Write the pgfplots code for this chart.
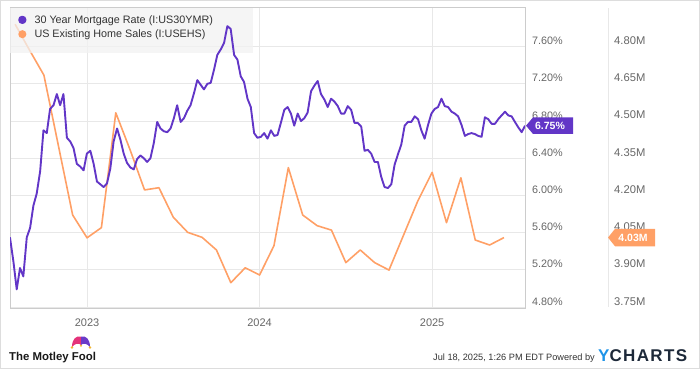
\documentclass[border=0pt]{standalone}
\usepackage{pgfplots}
\pgfplotsset{compat=1.18}
\usepackage{fontspec}
\setmainfont{Liberation Sans}
\newfontfamily\ycfont[LetterSpace=8]{Liberation Sans}
\definecolor{ppl}{HTML}{6236C7}
\definecolor{org}{HTML}{FFA066}
\definecolor{gridc}{HTML}{E8E8E8}
\definecolor{framec}{HTML}{CCCCCC}
\definecolor{outerc}{HTML}{DDDDDD}
\definecolor{tickc}{HTML}{666666}
\definecolor{txtc}{HTML}{333333}
\definecolor{foolpink}{HTML}{E4337A}
\definecolor{foolpurple}{HTML}{6A3BC8}
\definecolor{foolgold}{HTML}{F2B630}
\definecolor{ycblue}{HTML}{1E94E8}
\definecolor{ycdark}{HTML}{1D2939}

\begin{document}
\begin{tikzpicture}

% ---------- Axis A: existing home sales (millions) ----------
\begin{axis}[
  name=A, scale only axis,
  width=515pt, height=300pt,
  xmin=-5.357, xmax=30.46, ymin=3.746, ymax=4.9556,
  axis line style={draw=framec, line width=1pt},
  xtick={0,12,24}, xticklabels={2023,2024,2025},
  ytick={3.75,3.90,4.05,4.20,4.35,4.50,4.65,4.80},
  grid=major, major grid style={draw=gridc, line width=0.9pt},
  major tick length=0pt, tick style={draw=none},
  yticklabel pos=right,
  /pgf/number format/assume math mode=true,
  yticklabel={\pgfmathprintnumber[fixed,fixed zerofill,precision=2]{\tick}M},
  yticklabel style={anchor=base west, inner sep=0pt, xshift=89pt, yshift=2pt,
    font=\fontsize{11.2}{13}\selectfont, text=tickc},
  xticklabel style={anchor=base, inner sep=0pt, yshift=-18pt,
    font=\fontsize{11}{13}\selectfont, text=tickc},
]
\addplot[org, line width=1.6pt, line join=round] coordinates {
(-5,4.890) (-4,4.786) (-3,4.685) (-2,4.403) (-1,4.121) (0,4.029) (1,4.070)
(2,4.533) (3,4.383) (4,4.222) (5,4.231) (6,4.112) (7,4.051) (8,4.031)
(9,3.980) (10,3.848) (11,3.908) (12,3.879) (13,3.997) (14,4.312) (15,4.121)
(16,4.078) (17,4.060) (18,3.929) (19,3.980) (20,3.929) (21,3.899) (22,4.038)
(23,4.177) (24,4.293) (25,4.090) (26,4.271) (27,4.020) (28,4.000) (29,4.030)
};
\coordinate (otag) at (axis cs:30.46,4.03);
\end{axis}

% ---------- Axis B: 30 year mortgage rate (%) ----------
\begin{axis}[
  name=B, scale only axis,
  width=515pt, height=300pt,
  xmin=-5.357, xmax=30.46, ymin=4.79, ymax=8.015,
  axis line style={draw=framec, line width=1pt},
  xtick=\empty,
  ytick={4.8,5.2,5.6,6.0,6.4,6.8,7.2,7.6},
  major tick length=0pt, tick style={draw=none},
  yticklabel pos=right,
  /pgf/number format/assume math mode=true,
  yticklabel={\pgfmathprintnumber[fixed,fixed zerofill,precision=2]{\tick}\%},
  yticklabel style={anchor=base west, inner sep=0pt, xshift=7pt, yshift=2pt,
    font=\fontsize{10.8}{13}\selectfont, text=tickc},
  legend image code/.code={\fill[#1] (3pt,0pt) circle (3.2pt);},
  legend cell align=left,
  legend style={at={(0,1)}, anchor=north west, xshift=8pt, yshift=-6pt,
    draw=none, fill=none, inner sep=0pt, row sep=3pt,
    font=\fontsize{10.8}{12}\selectfont, text=txtc,
    nodes={inner sep=1pt},
    /tikz/every odd column/.append style={column sep=7pt}},
]
\fill[black!5, fill opacity=0.75] (axis description cs:0,1) rectangle (axis description cs:0.4718,0.849);
\addplot[ppl, line width=1.9pt, line join=round] coordinates {
(-5.36,5.55) (-5.12,5.29) (-4.89,4.99) (-4.66,5.22) (-4.43,5.13) (-4.19,5.55)
(-3.96,5.65) (-3.73,5.89) (-3.50,6.02) (-3.26,6.26) (-3.03,6.70) (-2.80,6.67)
(-2.57,6.93) (-2.33,6.97) (-2.10,7.09) (-1.87,6.97) (-1.64,7.09) (-1.40,6.62)
(-1.17,6.58) (-0.94,6.51) (-0.71,6.34) (-0.47,6.31) (-0.24,6.27) (-0.01,6.45)
(0.23,6.48) (0.46,6.34) (0.69,6.15) (0.92,6.12) (1.16,6.09) (1.39,6.13)
(1.62,6.29) (1.85,6.58) (2.09,6.72) (2.32,6.60) (2.55,6.45) (2.78,6.35)
(3.02,6.30) (3.25,6.28) (3.48,6.39) (3.71,6.43) (3.95,6.40) (4.18,6.36)
(4.41,6.40) (4.64,6.56) (4.88,6.79) (5.11,6.72) (5.34,6.69) (5.58,6.68)
(5.81,6.72) (6.04,6.83) (6.27,6.97) (6.51,6.79) (6.74,6.83) (6.97,6.91)
(7.20,6.97) (7.44,7.10) (7.67,7.24) (7.90,7.19) (8.13,7.14) (8.37,7.20)
(8.60,7.21) (8.83,7.35) (9.06,7.51) (9.30,7.57) (9.53,7.64) (9.76,7.82)
(9.99,7.79) (10.23,7.51) (10.46,7.46) (10.69,7.28) (10.92,7.22) (11.16,7.04)
(11.39,6.95) (11.62,6.67) (11.85,6.62) (12.09,6.63) (12.32,6.67) (12.55,6.61)
(12.79,6.70) (13.02,6.64) (13.25,6.65) (13.48,6.78) (13.72,6.92) (13.95,6.95)
(14.18,6.88) (14.41,6.75) (14.65,6.88) (14.88,6.80) (15.11,6.83) (15.34,6.89)
(15.58,7.12) (15.81,7.18) (16.04,7.23) (16.27,7.09) (16.51,7.03) (16.74,6.95)
(16.97,7.04) (17.20,7.01) (17.44,6.96) (17.67,6.88) (17.90,6.88) (18.13,6.96)
(18.37,6.92) (18.60,6.78) (18.83,6.78) (19.07,6.74) (19.30,6.48) (19.53,6.49)
(19.76,6.45) (20.00,6.36) (20.23,6.36) (20.46,6.20) (20.69,6.09) (20.93,6.08)
(21.16,6.12) (21.39,6.33) (21.62,6.44) (21.86,6.55) (22.09,6.75) (22.32,6.79)
(22.55,6.79) (22.79,6.85) (23.02,6.82) (23.25,6.70) (23.48,6.61) (23.72,6.76)
(23.95,6.88) (24.18,6.93) (24.41,6.95) (24.65,7.04) (24.88,6.96) (25.11,6.95)
(25.35,6.90) (25.58,6.88) (25.81,6.85) (26.04,6.76) (26.28,6.64) (26.51,6.66)
(26.74,6.67) (26.97,6.66) (27.21,6.64) (27.44,6.63) (27.67,6.84) (27.90,6.82)
(28.14,6.77) (28.37,6.77) (28.60,6.82) (28.83,6.86) (29.07,6.90) (29.30,6.86)
(29.53,6.85) (29.76,6.79) (30.00,6.73) (30.23,6.68) (30.46,6.75)
};
\addlegendentry{30 Year Mortgage Rate (I:US30YMR)}
\addlegendimage{org, line width=1.6pt}
\addlegendentry{US Existing Home Sales (I:USEHS)}
\coordinate (ptag) at (axis cs:30.46,6.75);
\end{axis}

% ---------- frame, separator ----------
\begin{scope}[shift={(B.south west)}, x=1pt, y=1pt]
\path[use as bounding box] (-10,-61) rectangle (690,308);
\draw[outerc, line width=1pt] (-9.5,-60.5) rectangle (689.5,307.5);
\draw[gridc, line width=1pt] (598,1) -- (598,300);
\end{scope}

% value tags
\fill[ppl] (ptag) ++(1pt,0pt) -- ++(7pt,8.3pt) -- ++(40pt,0pt) -- ++(0pt,-16.6pt) -- ++(-40pt,0pt) -- cycle;
\node[text=white, font=\bfseries\fontsize{10.5}{12}\selectfont, inner sep=0pt] at ([xshift=25pt]ptag) {6.75\%};
\fill[org] (otag) ++(83pt,0pt) -- ++(7pt,8.7pt) -- ++(40pt,0pt) -- ++(0pt,-17.4pt) -- ++(-40pt,0pt) -- cycle;
\node[text=white, font=\bfseries\fontsize{10.5}{12}\selectfont, inner sep=0pt] at ([xshift=108pt]otag) {4.03M};

\begin{scope}[shift={(B.south west)}, x=1pt, y=1pt]
% footer (coordinates relative to plot corner: picture x-10, y-61)
\fill[foolpink] (62,-39) .. controls (62,-31) and (66,-27.5) .. (71,-28.5) -- (71,-37) .. controls (68.5,-34.5) and (65,-35.5) .. (62,-39) -- cycle;
\fill[foolpurple] (80,-39) .. controls (80,-31) and (76,-27.5) .. (71,-28.5) -- (71,-37) .. controls (73.5,-34.5) and (77,-35.5) .. (80,-39) -- cycle;
\fill[foolgold] (62,-39.5) circle (1.3);
\fill[foolgold] (80,-39.5) circle (1.3);
\fill[foolgold] (71,-37.8) circle (1.1);
\node[anchor=base west, inner sep=0pt, font=\bfseries\fontsize{11.4}{13}\selectfont, text=black!90] at (-1,-52) {The Motley Fool};
\node[anchor=base east, inner sep=0pt, font=\fontsize{9.2}{11}\selectfont, text=txtc] at (585,-52) {Jul 18, 2025, 1:26 PM EDT Powered by};
\node[anchor=base west, inner sep=0pt, font=\ycfont\bfseries\fontsize{17}{20}\selectfont] at (588,-53.5) {\textcolor{ycblue}{Y}\textcolor{ycdark}{CHARTS}};
\end{scope}
\end{tikzpicture}
\end{document}
